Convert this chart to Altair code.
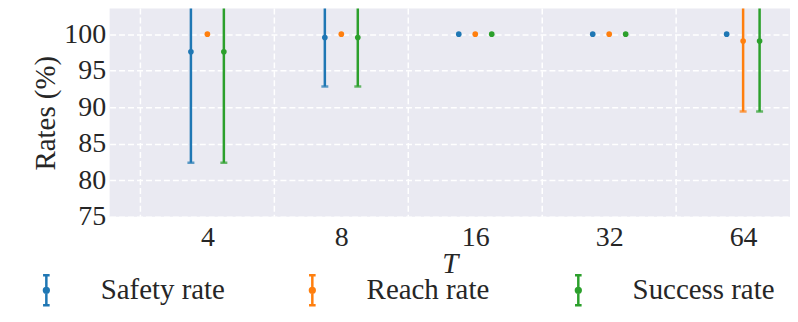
import altair as alt
import pandas as pd

# ---- data ----
T_labels = ["4", "8", "16", "32", "64"]
series_names = ["Safety rate", "Reach rate", "Success rate"]
series_colors = ["#1f77b4", "#ff7f0e", "#2ca02c"]

safety_mean = [97.6, 99.55, 100.0, 100.0, 100.0]
safety_err = [15.2, 6.7, 0.0, 0.0, 0.0]
reach_mean = [100.0, 100.0, 100.0, 100.0, 99.05]
reach_err = [0.0, 0.0, 0.0, 0.0, 9.65]
success_mean = [97.6, 99.55, 100.0, 100.0, 99.05]
success_err = [15.2, 6.7, 0.0, 0.0, 9.65]

y_ticks = [75, 80, 85, 90, 95, 100]
cat_index = [0, 1, 2, 3, 4]
cat_bounds = [-0.5, 0.5, 1.5, 2.5, 3.5]

rows = []
for name, means, errs in [
    ("Safety rate", safety_mean, safety_err),
    ("Reach rate", reach_mean, reach_err),
    ("Success rate", success_mean, success_err),
]:
    for i, (m, e) in enumerate(zip(means, errs)):
        rows.append({"series": name, "idx": i, "T": T_labels[i], "mean": m, "err": e})
df = pd.DataFrame(rows)
grid_df = pd.DataFrame({"g": cat_bounds})

FONT = "Liberation Serif, Times New Roman, Times, serif"
TXT = "#262626"

xscale = alt.Scale(domain=[-0.73, 4.35], nice=False, zero=False)
yscale = alt.Scale(domain=[75, 103.5], nice=False, zero=False)

label_expr = "[" + ",".join("'" + t + "'" for t in T_labels) + "][datum.value]"
xaxis = alt.Axis(values=cat_index, labelExpr=label_expr, grid=False, ticks=False,
                 domain=False, labelFont=FONT, labelFontSize=28, labelColor=TXT,
                 labelPadding=7, titleFont=FONT, titleFontSize=29,
                 titleFontStyle="italic", titleFontWeight="normal", titleColor=TXT,
                 titlePadding=-2)
yaxis = alt.Axis(values=y_ticks, grid=True, gridColor="white", gridWidth=1.5,
                 gridDash=[6, 3], ticks=False, domain=False, labelFont=FONT,
                 labelFontSize=28, labelColor=TXT, labelPadding=4, titleFont=FONT,
                 titleFontSize=29, titleFontWeight="normal", titleColor=TXT,
                 titlePadding=3)


def xenc(field):
    return alt.X(field, type="quantitative", scale=xscale, axis=xaxis, title="T")


def yenc(field):
    return alt.Y(field, type="quantitative", scale=yscale, axis=yaxis, title="Rates (%)")


color_scale = alt.Scale(domain=series_names, range=series_colors)

base = alt.Chart(df).transform_calculate(
    xpos="datum.idx + (datum.series == 'Safety rate' ? -0.123 : (datum.series == 'Reach rate' ? 0 : 0.123))",
    lo="datum.mean - datum.err",
    hi="datum.mean + datum.err",
)
err_base = base.transform_filter("datum.err > 0")

vgrid = alt.Chart(grid_df).mark_rule(color="white", strokeWidth=1.5, strokeDash=[6, 3]).encode(
    x=xenc("g")
)

# legend symbol: error bar with caps and a (stroke-filled) dot
legend_path = ("M0,-1V1M-0.22,-1H0.22M-0.22,1H0.22"
               "M0.08,0A0.08,0.08,0,1,1,-0.08,0A0.08,0.08,0,1,1,0.08,0"
               "M0.16,0A0.16,0.16,0,1,1,-0.16,0A0.16,0.16,0,1,1,0.16,0")

bars = err_base.mark_rule(strokeWidth=2.5, clip=True).encode(
    x=xenc("xpos"), y=yenc("lo"), y2="hi",
    color=alt.Color(
        "series:N", scale=color_scale,
        legend=alt.Legend(
            title=None, orient="none", legendX=-80, legendY=266,
            direction="horizontal", columns=3, gridAlign="all", columnPadding=53,
            symbolType=legend_path, symbolSize=900, symbolStrokeWidth=2.5,
            symbolFillColor="transparent", symbolOpacity=1,
            labelFont=FONT, labelFontSize=29, labelColor=TXT, labelOffset=38,
            labelLimit=400, padding=0,
        ),
    ),
)
cap_lo = err_base.mark_tick(orient="horizontal", size=7, thickness=2.5, clip=True).encode(
    x=xenc("xpos"), y=yenc("lo"),
    color=alt.Color("series:N", scale=color_scale, legend=None),
)
cap_hi = err_base.mark_tick(orient="horizontal", size=7, thickness=2.5, clip=True).encode(
    x=xenc("xpos"), y=yenc("hi"),
    color=alt.Color("series:N", scale=color_scale, legend=None),
)

points = base.mark_circle(size=32, opacity=1).encode(
    x=xenc("xpos"), y=yenc("mean"),
    color=alt.Color("series:N", scale=color_scale, legend=None),
)

chart = alt.layer(vgrid, bars, cap_lo, cap_hi, points).properties(
    width=683, height=209,
    background="white",
    autosize=alt.AutoSizeParams(type="none"),
    padding={"left": 102, "top": 0, "right": 0, "bottom": 105},
).configure_view(fill="#EAEAF2", stroke=None)

chart.save("out.html", embed_options={"renderer": "svg", "actions": False})
